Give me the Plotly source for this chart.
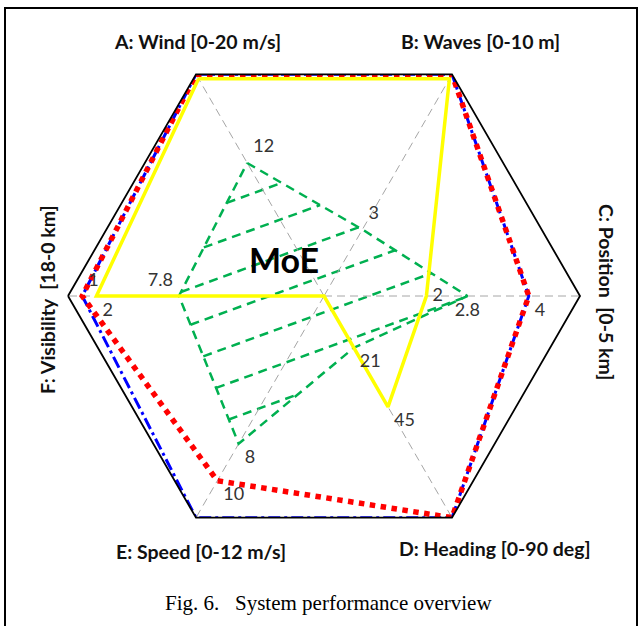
import math
import numpy as np
import plotly.graph_objects as go

# ---------------- data ----------------
categories = ["A", "B", "C", "D", "E", "F"]
axis_titles = ["A: Wind [0-20 m/s]", "B: Waves [0-10 m]",
               "C: Position\u00a0\u00a0[0-5 km]", "D: Heading [0-90 deg]",
               "E: Speed [0-12 m/s]", "F: Visibility\u00a0\u00a0[18-0 km]"]
axis_centre_value = [0, 0, 0, 0, 0, 18]   # value at the centre of each axis
axis_rim_value = [20, 10, 5, 90, 12, 0]   # value at the hexagon rim

moe_values = [12, 3, 2.8, 21, 8, 7.8]
moe_labels = ["12", "3", "2.8", "21", "8", "7.8"]

yellow_values = [19.6, 9.8, 2, 45, 0, 2]
yellow_labels = ["", "", "2", "45", "0", "2"]

red_values = [20, 10, 4, 90, 10, 1]
red_labels = ["", "", "4", "", "10", "1"]

blue_values = [20, 10, 4, 90, 12, 1]

caption = "Fig. 6.\u00a0\u00a0\u00a0System performance overview"
centre_title = "MoE"


def norm(vals):
    return [(v - c) / (m - c) for v, c, m in zip(vals, axis_centre_value, axis_rim_value)]


def closed(seq):
    return list(seq) + [seq[0]]


# ---------------- styles ----------------
GREEN = "#00b050"
YELLOW = "#ffff00"
RED = "#ff0000"
BLUE = "#0000ff"
LABEL_FONT = dict(family="Lato", size=18, color="#333333")
TITLE_FONT = dict(family="Lato", size=19.5, color="#111111")

fig = go.Figure()

# ---- hatching of the MoE area (derived from the MoE polygon) ----
angles = [120 - 60 * i for i in range(len(categories))]  # direction of each category axis
moe_r = norm(moe_values)
pts = np.array([[r * math.cos(math.radians(a)), r * math.sin(math.radians(a))]
                for r, a in zip(moe_r, angles)])
phi = math.radians(20)
d = np.array([math.cos(phi), math.sin(phi)])
n = np.array([-math.sin(phi), math.cos(phi)])
proj = pts @ n
spacing = 0.133
anchor = pts[5] @ n + 0.012
k0 = math.ceil((proj.min() - anchor) / spacing)
k1 = math.floor((proj.max() - anchor) / spacing)
hr, ht = [], []
for k in range(k0, k1 + 1):
    c = anchor + k * spacing
    hits = []
    for i in range(len(pts)):
        p, q = pts[i], pts[(i + 1) % len(pts)]
        a, b = p @ n - c, q @ n - c
        if a * b < 0:
            t = a / (a - b)
            hits.append(p + t * (q - p))
    hits.sort(key=lambda h: h @ d)
    for j in range(0, len(hits) - 1, 2):
        for h in (hits[j], hits[j + 1]):
            hr.append(float(math.hypot(h[0], h[1])))
            ht.append(float(math.degrees(math.atan2(h[1], h[0]))))
        hr.append(None)
        ht.append(None)

fig.add_trace(go.Scatterpolar(
    r=hr, theta=ht, mode="lines", subplot="polar", connectgaps=False,
    line=dict(color=GREEN, width=2.5, dash="9px,6px"), hoverinfo="skip"))

# ---- series ----
fig.add_trace(go.Scatterpolar(
    r=closed(moe_r), theta=closed(categories), mode="lines", subplot="polar2",
    line=dict(color=GREEN, width=2.5, dash="9px,6px"), name="MoE"))

fig.add_trace(go.Scatterpolar(
    r=closed(norm(yellow_values)), theta=closed(categories), mode="lines", subplot="polar2",
    line=dict(color=YELLOW, width=3.5), name="yellow"))

fig.add_trace(go.Scatterpolar(
    r=closed(norm(blue_values)), theta=closed(categories), mode="lines", subplot="polar2",
    line=dict(color=BLUE, width=3, dash="12px,4px,3px,4px"), name="blue"))

fig.add_trace(go.Scatterpolar(
    r=closed(norm(red_values)), theta=closed(categories), mode="lines", subplot="polar2",
    line=dict(color=RED, width=5.5, dash="dot"), name="red"))

# ---- value labels ----
moe_pos = ["top right", "top right", "bottom center", "bottom right", "bottom right", "top left"]
yellow_pos = ["top right", "top right", "middle right", "bottom right", "bottom left", "bottom right"]
red_pos = ["top right", "top right", "bottom right", "top right", "bottom right", "top right"]
for vals, labels, pos in ((moe_values, moe_labels, moe_pos),
                          (yellow_values, yellow_labels, yellow_pos),
                          (red_values, red_labels, red_pos)):
    fig.add_trace(go.Scatterpolar(
        r=norm(vals), theta=categories, mode="markers+text", subplot="polar2",
        text=labels, textposition=pos, textfont=LABEL_FONT,
        marker=dict(size=8, color="rgba(0,0,0,0)"), hoverinfo="skip"))

dom_x = [68 / 643, 580 / 643]
dom_y = [74 / 626, 586 / 626]

fig.update_layout(
    width=643, height=626,
    margin=dict(l=0, r=0, t=0, b=0),
    paper_bgcolor="white",
    showlegend=False,
    polar=dict(
        domain=dict(x=dom_x, y=dom_y),
        bgcolor="rgba(0,0,0,0)",
        radialaxis=dict(range=[0, 1], visible=False),
        angularaxis=dict(type="linear", thetaunit="degrees", rotation=0,
                         direction="counterclockwise", visible=False),
    ),
    polar2=dict(
        domain=dict(x=dom_x, y=dom_y),
        bgcolor="rgba(0,0,0,0)",
        gridshape="linear",
        radialaxis=dict(range=[0, 1], visible=False),
        angularaxis=dict(type="category", categoryarray=categories, rotation=120,
                         direction="clockwise", showline=True, linecolor="black",
                         linewidth=1.8, showgrid=True, gridcolor="#a6a6a6", gridwidth=1,
                         griddash="8px,5px", ticks="", showticklabels=False),
    ),
)

# ---- axis titles, centre title, caption ----
title_pos = [(197, 41, 0), (480, 41, 0), (607, 292, 90), (495, 548, 0), (201, 551, 0), (47, 300, -90)]
for txt, (px, py, ang) in zip(axis_titles, title_pos):
    fig.add_annotation(text="<b>%s</b>" % txt, x=px / 643, y=1 - py / 626, xref="paper", yref="paper",
                       xanchor="center", yanchor="middle", textangle=ang, showarrow=False,
                       font=TITLE_FONT)

fig.add_annotation(text="<b>%s</b>" % centre_title, x=284 / 643, y=1 - 259 / 626, xref="paper",
                   yref="paper", xanchor="center", yanchor="middle", showarrow=False,
                   font=dict(family="Lato", size=34, color="black"))

fig.add_annotation(text=caption, x=328 / 643, y=1 - 603 / 626, xref="paper", yref="paper",
                   xanchor="center", yanchor="middle", showarrow=False,
                   font=dict(family="Liberation Serif", size=21, color="black"))

# figure frame
fig.add_shape(type="rect", xref="paper", yref="paper", x0=5 / 643, x1=637 / 643,
              y0=-0.2, y1=1 - 8 / 626, line=dict(color="black", width=2),
              fillcolor="rgba(0,0,0,0)", layer="below")

fig.write_html("out.html", config={"displayModeBar": False},
               post_script="document.body.style.margin='0';document.body.style.overflow='hidden';")
